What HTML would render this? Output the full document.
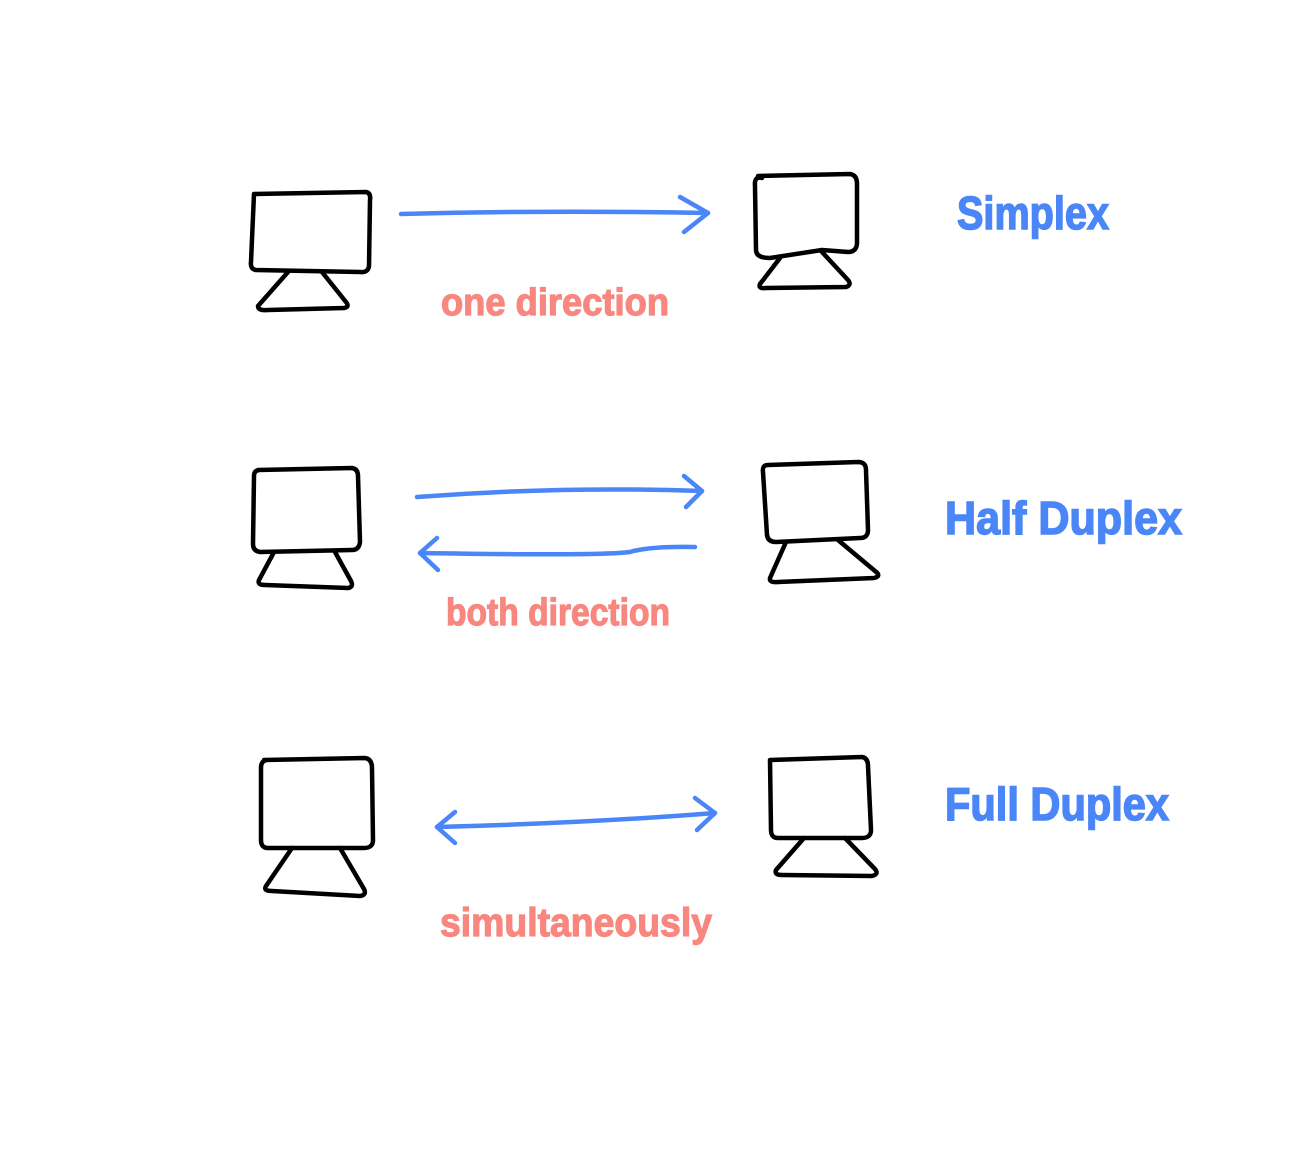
<!DOCTYPE html>
<html><head><meta charset="utf-8"><style>
html,body{margin:0;padding:0;background:#fff;}
svg{display:block}
text{font-family:"Liberation Sans",sans-serif;font-weight:bold;}
</style></head><body>
<svg width="1300" height="1175" viewBox="0 0 1300 1175" xmlns="http://www.w3.org/2000/svg">
<rect width="1300" height="1175" fill="#fff"/>
<g fill="none" stroke="#000" stroke-width="4.5" stroke-linecap="round" stroke-linejoin="round">
<path d="M254,194 L366,192 Q371,193 370,200 L369,266 Q368,273 360,272 L256,270 Q250,269 251,262 Z"/>
<path d="M288,272 L258,306 Q258,311 268,310 L344,308 Q350,307 346,302 L322,272"/>
<path d="M758,176 L850,174 Q857,175 857,184 L857,244 Q856,252 848,252 L822,250 L770,258 Q756,258 756,250 L755,186 Q754,176 762,178"/>
<path d="M780,258 L760,284 Q758,289 766,288 L846,287 Q852,285 848,280 L822,252"/>
<path d="M258,470 L352,468 Q358,469 358,476 L360,542 Q359,550 352,550 L260,552 Q253,551 253,544 L254,476 Q254,470 260,470"/>
<path d="M274,552 L259,580 Q257,585 265,585 L348,588 Q354,587 351,581 L335,552"/>
<path d="M768,465 L858,462 Q866,462 866,470 L868,530 Q868,538 860,538 L776,542 Q768,542 767,535 L763,472 Q762,465 768,465"/>
<path d="M786,542 L770,578 Q769,583 778,582 L874,578 Q882,576 875,571 L838,540"/>
<path d="M264,760 L365,758 Q372,759 372,768 L373,840 Q373,848 364,848 L268,848 Q261,848 261,840 L261,768 Q261,760 268,760"/>
<path d="M292,848 L266,886 Q263,891 272,891 L360,896 Q367,895 364,889 L340,848"/>
<path d="M770,760 L862,757 Q868,758 868,766 L871,830 Q871,838 862,838 L778,838 Q771,838 771,830 L770,760"/>
<path d="M804,838 L776,870 Q774,875 782,875 L872,876 Q880,874 874,868 L845,838"/>
</g>
<g fill="none" stroke="#4a86f7" stroke-width="4.5" stroke-linecap="round" stroke-linejoin="round">
<path d="M401,214 Q550,210 708,213"/>
<path d="M680,197 L708,213 L684,232"/>
<path d="M417,497 Q560,486 702,491"/>
<path d="M684,476 L702,491 L686,507"/>
<path d="M695,547 Q650,546 630,552 Q600,556 420,553"/>
<path d="M437,538 L420,553 L438,570"/>
<path d="M437,827 Q590,823 715,813"/>
<path d="M455,812 L437,827 L455,843"/>
<path d="M695,798 L715,813 L697,830"/>
</g>
<g fill="#f7877f" stroke="#f7877f" stroke-width="1.2">
<text x="441" y="315" font-size="38" textLength="228" lengthAdjust="spacingAndGlyphs">one direction</text>
<text x="446" y="625" font-size="38" textLength="224" lengthAdjust="spacingAndGlyphs">both direction</text>
<text x="440" y="936" font-size="40" textLength="272" lengthAdjust="spacingAndGlyphs">simultaneously</text>
</g>
<g fill="#4a86f7" stroke="#4a86f7" stroke-width="1.5">
<text x="957" y="229" font-size="46" textLength="152" lengthAdjust="spacingAndGlyphs">Simplex</text>
<text x="945" y="534" font-size="46" textLength="237" lengthAdjust="spacingAndGlyphs">Half Duplex</text>
<text x="945" y="820" font-size="46" textLength="224" lengthAdjust="spacingAndGlyphs">Full Duplex</text>
</g>
</svg>
</body></html>
